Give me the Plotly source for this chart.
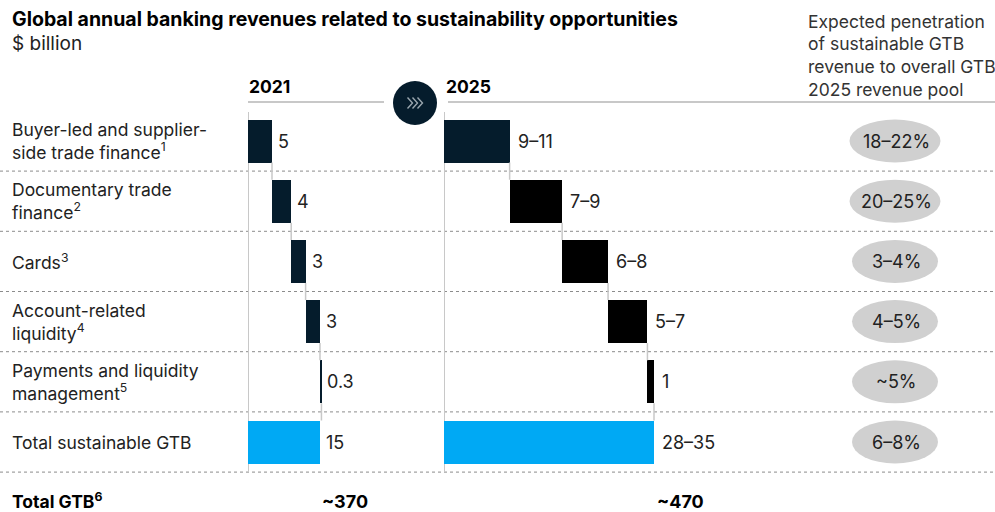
import plotly.graph_objects as go

# ---------------- data ----------------
categories = [
    "Buyer-led and supplier-<br>side trade finance<sup>1</sup>",
    "Documentary trade<br>finance<sup>2</sup>",
    "Cards<sup>3</sup>",
    "Account-related<br>liquidity<sup>4</sup>",
    "Payments and liquidity<br>management<sup>5</sup>",
    "Total sustainable GTB",
]
values_2021 = [5, 4, 3, 3, 0.3]
total_2021 = 15
labels_2021 = ["5", "4", "3", "3", "0.3", "15"]

values_2025 = [10, 8, 7, 6, 1]          # mid-points of the ranges
total_2025 = 32
labels_2025 = ["9–11", "7–9", "6–8", "5–7", "1", "28–35"]

penetration = ["18–22%", "20–25%", "3–4%", "4–5%", "~5%", "6–8%"]
total_gtb = ["~370", "~470"]

# ---------------- styling ----------------
W, H = 995, 512
FONT = "Inter, Liberation Sans, Arial, sans-serif"
NAVY = "#051c2c"
BLACK = "#000000"
CYAN = "#00a9f4"
GREY_LINE = "#c8c8c8"
TXT = "#222222"

ROW0, PITCH = 141, 60.2
BAR_W = 43 / PITCH
n = len(categories)


def px(x):
    return x / W


def py(y):
    return 1 - y / H


fig = go.Figure()


def waterfall(values, total, xaxis, yaxis, colors):
    bases, ends = [], []
    cum = 0
    for v in values:
        bases.append(cum)
        cum += v
        ends.append(cum)
    xs = list(values) + [total]
    b = bases + [0]
    fig.add_trace(go.Bar(
        x=xs, y=list(range(n)), base=b, orientation="h",
        width=BAR_W, marker=dict(color=colors, line=dict(width=0)),
        xaxis=xaxis, yaxis=yaxis, showlegend=False, hoverinfo="skip",
    ))
    # connectors
    for i in range(len(values)):
        fig.add_trace(go.Scatter(
            x=[ends[i], ends[i]],
            y=[i + BAR_W / 2, i + 1 - BAR_W / 2],
            mode="lines", line=dict(color=GREY_LINE, width=1.5),
            xaxis=xaxis, yaxis=yaxis, showlegend=False, hoverinfo="skip",
        ))
    return ends + [total]


ends21 = waterfall(values_2021, total_2021, "x", "y",
                   [NAVY] * len(values_2021) + [CYAN])
ends25 = waterfall(values_2025, total_2025, "x2", "y",
                   [NAVY] + [BLACK] * (len(values_2025) - 1) + [CYAN])

annotations = []
shapes = []

# value labels
for i in range(n):
    annotations.append(dict(x=ends21[i], y=i, xref="x", yref="y", text=labels_2021[i],
                            xanchor="left", yanchor="middle", xshift=4, showarrow=False,
                            font=dict(size=18, color=TXT, family=FONT)))
    annotations.append(dict(x=ends25[i], y=i, xref="x2", yref="y", text=labels_2025[i],
                            xanchor="left", yanchor="middle", xshift=6, showarrow=False,
                            font=dict(size=18, color=TXT, family=FONT)))
    # category labels
    annotations.append(dict(x=px(10), y=i, xref="paper", yref="y", text=categories[i],
                            xanchor="left", yanchor="middle", align="left", showarrow=False,
                            font=dict(size=17.5, color=TXT, family=FONT)))
    # ellipse + penetration text
    ew = 91 if len(penetration[i]) > 5 else 86
    shapes.append(dict(type="circle", xref="paper", yref="y",
                       x0=px(895 - ew / 2), x1=px(895 + ew / 2),
                       y0=i - BAR_W / 2, y1=i + BAR_W / 2,
                       fillcolor="#d0d0d0", line=dict(width=0), layer="below"))
    annotations.append(dict(x=px(896), y=i, xref="paper", yref="y", text=penetration[i],
                            xanchor="center", yanchor="middle", showarrow=False,
                            font=dict(size=18, color=TXT, family=FONT)))
    # dotted row dividers
    shapes.append(dict(type="line", xref="paper", yref="y", x0=0, x1=1,
                       y0=i + 0.5, y1=i + 0.5,
                       line=dict(color="#8c8c8c", width=1, dash="dot"), layer="below"))

# vertical base lines
for xr in ["x", "x2"]:
    shapes.append(dict(type="line", xref=xr, yref="y", x0=0, x1=0,
                       y0=-0.48, y1=n - 0.5,
                       line=dict(color=GREY_LINE, width=2), layer="below"))

# header lines
shapes.append(dict(type="line", xref="paper", yref="paper", x0=px(248), x1=px(384),
                   y0=py(102), y1=py(102), line=dict(color=GREY_LINE, width=2)))
shapes.append(dict(type="line", xref="paper", yref="paper", x0=px(448), x1=1,
                   y0=py(102), y1=py(102), line=dict(color=GREY_LINE, width=2)))
# arrow circle
shapes.append(dict(type="circle", xref="paper", yref="paper",
                   x0=px(393), x1=px(437), y0=py(125), y1=py(81),
                   fillcolor=NAVY, line=dict(width=0)))
cx, cy = 415, 103
for dx in (-5, 0, 5):
    path = "M {} {} L {} {} L {} {}".format(
        px(cx + dx - 2.5), py(cy - 5.5), px(cx + dx + 2.5), py(cy),
        px(cx + dx - 2.5), py(cy + 5.5))
    shapes.append(dict(type="path", xref="paper", yref="paper", path=path,
                       line=dict(color="#9aa6ae", width=1.4)))

# titles
annotations.append(dict(x=px(10), y=py(19), xref="paper", yref="paper",
                        text="<b>Global annual banking revenues related to sustainability opportunities</b>",
                        xanchor="left", yanchor="middle", showarrow=False,
                        font=dict(size=19.5, color="#000", family=FONT)))
annotations.append(dict(x=px(10), y=py(43), xref="paper", yref="paper", text="$ billion",
                        xanchor="left", yanchor="middle", showarrow=False,
                        font=dict(size=19, color=TXT, family=FONT)))
annotations.append(dict(x=px(247), y=py(86), xref="paper", yref="paper", text="<b>2021</b>",
                        xanchor="left", yanchor="middle", showarrow=False,
                        font=dict(size=17.5, color="#000", family=FONT)))
annotations.append(dict(x=px(444), y=py(86), xref="paper", yref="paper", text="<b>2025</b>",
                        xanchor="left", yanchor="middle", showarrow=False,
                        font=dict(size=17.5, color="#000", family=FONT)))
for k, line in enumerate(["Expected penetration", "of sustainable GTB",
                          "revenue to overall GTB", "2025 revenue pool"]):
    annotations.append(dict(x=px(806), y=py(21 + 22.7 * k), xref="paper", yref="paper",
                            text=line, xanchor="left", yanchor="middle", showarrow=False,
                            font=dict(size=17.5, color="#333", family=FONT)))

# total GTB row
annotations.append(dict(x=px(10), y=py(500), xref="paper", yref="paper",
                        text="<b>Total GTB<sup>6</sup></b>", xanchor="left", yanchor="middle",
                        showarrow=False, font=dict(size=17.5, color="#000", family=FONT)))
annotations.append(dict(x=total_2021, y=py(501), xref="x", yref="paper",
                        text="<b>" + total_gtb[0] + "</b>", xanchor="left", yanchor="middle",
                        showarrow=False, font=dict(size=18, color="#000", family=FONT)))
annotations.append(dict(x=total_2025, y=py(501), xref="x2", yref="paper",
                        text="<b>" + total_gtb[1] + "</b>", xanchor="left", yanchor="middle",
                        xshift=1, showarrow=False, font=dict(size=18, color="#000", family=FONT)))

S1 = 4.8       # px per $bn, 2021 panel
S2 = 6.5625    # px per $bn, 2025 panel
fig.update_layout(
    width=W, height=H, margin=dict(l=0, r=0, t=0, b=0),
    paper_bgcolor="white", plot_bgcolor="white",
    xaxis=dict(domain=[px(248), px(400)], range=[0, 152 / S1], visible=False, fixedrange=True),
    xaxis2=dict(domain=[px(444), px(800)], range=[0, 356 / S2], visible=False, fixedrange=True,
                anchor="y"),
    yaxis=dict(domain=[0, 1], range=[(H - ROW0) / PITCH, -ROW0 / PITCH], visible=False,
               fixedrange=True),
    bargap=0, barmode="overlay",
    shapes=shapes, annotations=annotations,
    font=dict(family=FONT),
)

fig.write_html("out.html", config={"displayModeBar": False},
               post_script="document.body.style.margin='0';document.body.style.overflow='hidden';")
